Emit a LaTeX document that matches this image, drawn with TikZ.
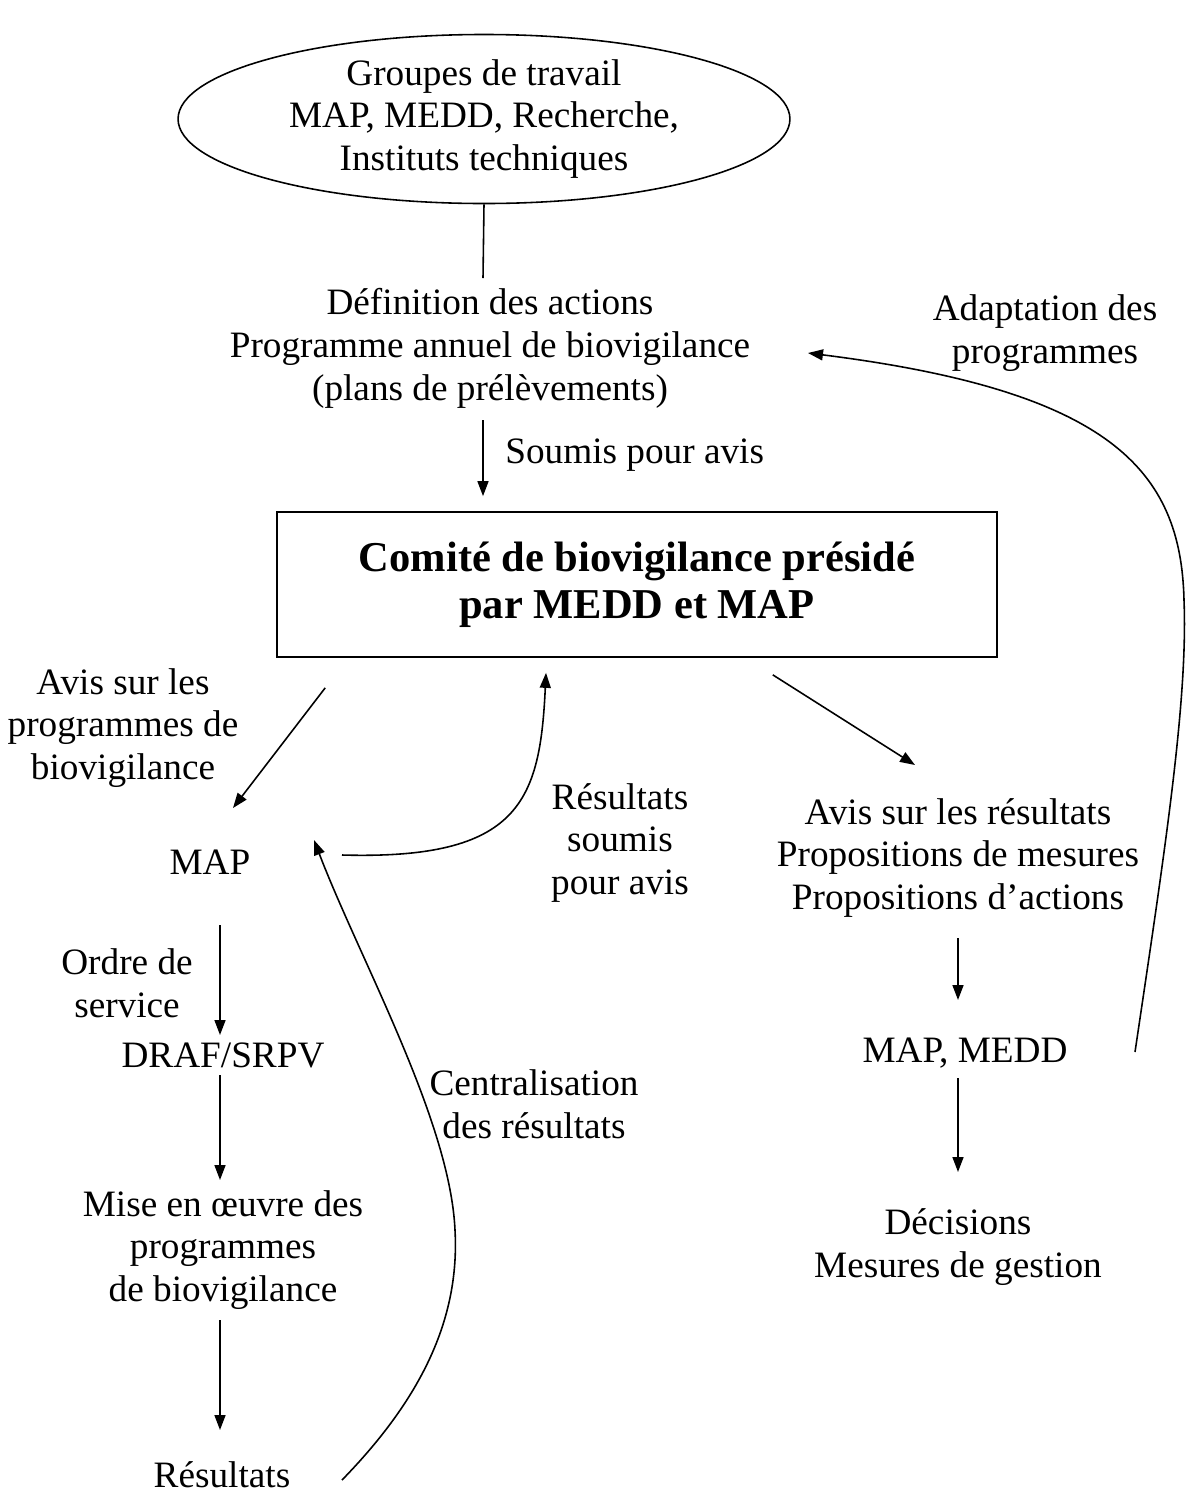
\documentclass[tikz,border=0pt]{standalone}
\usepackage{fontspec}
\setmainfont{Liberation Serif}
\usetikzlibrary{arrows.meta,shapes.geometric,calc}
\begin{document}
\begin{tikzpicture}[x=0.02cm,y=-0.02cm,
  txt/.style={align=center,inner sep=0pt,font=\fontsize{21.2}{24.4}\selectfont},
  arr/.style={line width=0.9pt,-{Triangle[length=0.3cm,width=0.22cm]}},
  ln/.style={line width=0.9pt}]
\useasboundingbox (0,0) rectangle (1186,1495);

% nodes
\node[ellipse,draw,line width=0.9pt,minimum width=12.24cm,minimum height=3.24cm,txt] (ell) at (484,119)
  {Groupes de travail\\MAP, MEDD, Recherche,\\Instituts techniques};
\node[txt] (def) at (490,348) {Définition des actions\\Programme annuel de biovigilance\\(plans de prélèvements)};
\node[txt,anchor=west] (soumis) at (505,455) {Soumis pour avis};
\node[draw,line width=1pt,minimum width=14.4cm,minimum height=2.9cm,inner sep=0pt,align=center,
  font=\bfseries\fontsize{24.2}{26.8}\selectfont] (com) at (637,584.5)
  {Comité de biovigilance présidé\\par MEDD et MAP};
\node[txt] (avisprog) at (123,728) {Avis sur les\\programmes de\\biovigilance};
\node[txt] (map1) at (210,862) {MAP};
\node[txt] (ressoumis) at (620,843) {Résultats\\soumis\\pour avis};
\node[txt] (avisres) at (958,858) {Avis sur les résultats\\Propositions de mesures\\Propositions d’actions};
\node[txt] (mapmedd) at (965,1053) {MAP, MEDD};
\node[txt] (decis) at (958,1247) {Décisions\\Mesures de gestion};
\node[txt] (adapt) at (1045,333) {Adaptation des\\programmes};
\node[txt] (ordre) at (127,983) {Ordre de\\service};
\node[txt] (draf) at (223,1055) {DRAF/SRPV};
\node[txt] (mise) at (223,1250) {Mise en œuvre des\\programmes\\de biovigilance};
\node[txt] (res) at (222,1475) {Résultats};
\node[txt] (central) at (534,1104) {Centralisation\\des résultats};

% connectors
\draw[ln] (ell.south) -- ($(def)+(-7,-70)$);
\draw[arr] ($(def)+(-7,72)$) -- ($(com.north)+(-154,-15)$);
\draw[arr] ($(com.south west)+(49,30)$) -- ($(map1)+(23,-54)$);
\draw[arr] ($(map1)+(132,-7)$) .. controls +(178,5) and +(-6,128) .. ($(com.south)+(-91,15)$);
\draw[arr] ($(com.south east)+(-225,17)$) -- ($(avisres)+(-43,-93)$);
\draw[arr] ($(avisres)+(0,80)$) -- ($(mapmedd)+(-7,-53)$);
\draw[arr] ($(mapmedd)+(-7,25)$) -- ($(decis)+(0,-75)$);
\draw[arr] ($(mapmedd)+(170,-1)$) .. controls +(30,-202) and +(4,100) .. (1184,600)
  .. controls +(-3,-130) and +(302,38) .. ($(def)+(318,5)$);
\draw[arr] ($(map1)+(10,63)$) -- ($(draf)+(-3,-20)$);
\draw[arr] ($(draf)+(-3,20)$) -- ($(mise)+(-3,-70)$);
\draw[arr] ($(mise)+(-3,70)$) -- ($(res)+(-2,-45)$);
\draw[arr] ($(res)+(120,5)$) .. controls +(78,-80) and +(5,90) .. (455,1230)
  .. controls +(-5,-110) and +(46,120) .. ($(map1)+(104,-22)$);
\end{tikzpicture}
\end{document}
